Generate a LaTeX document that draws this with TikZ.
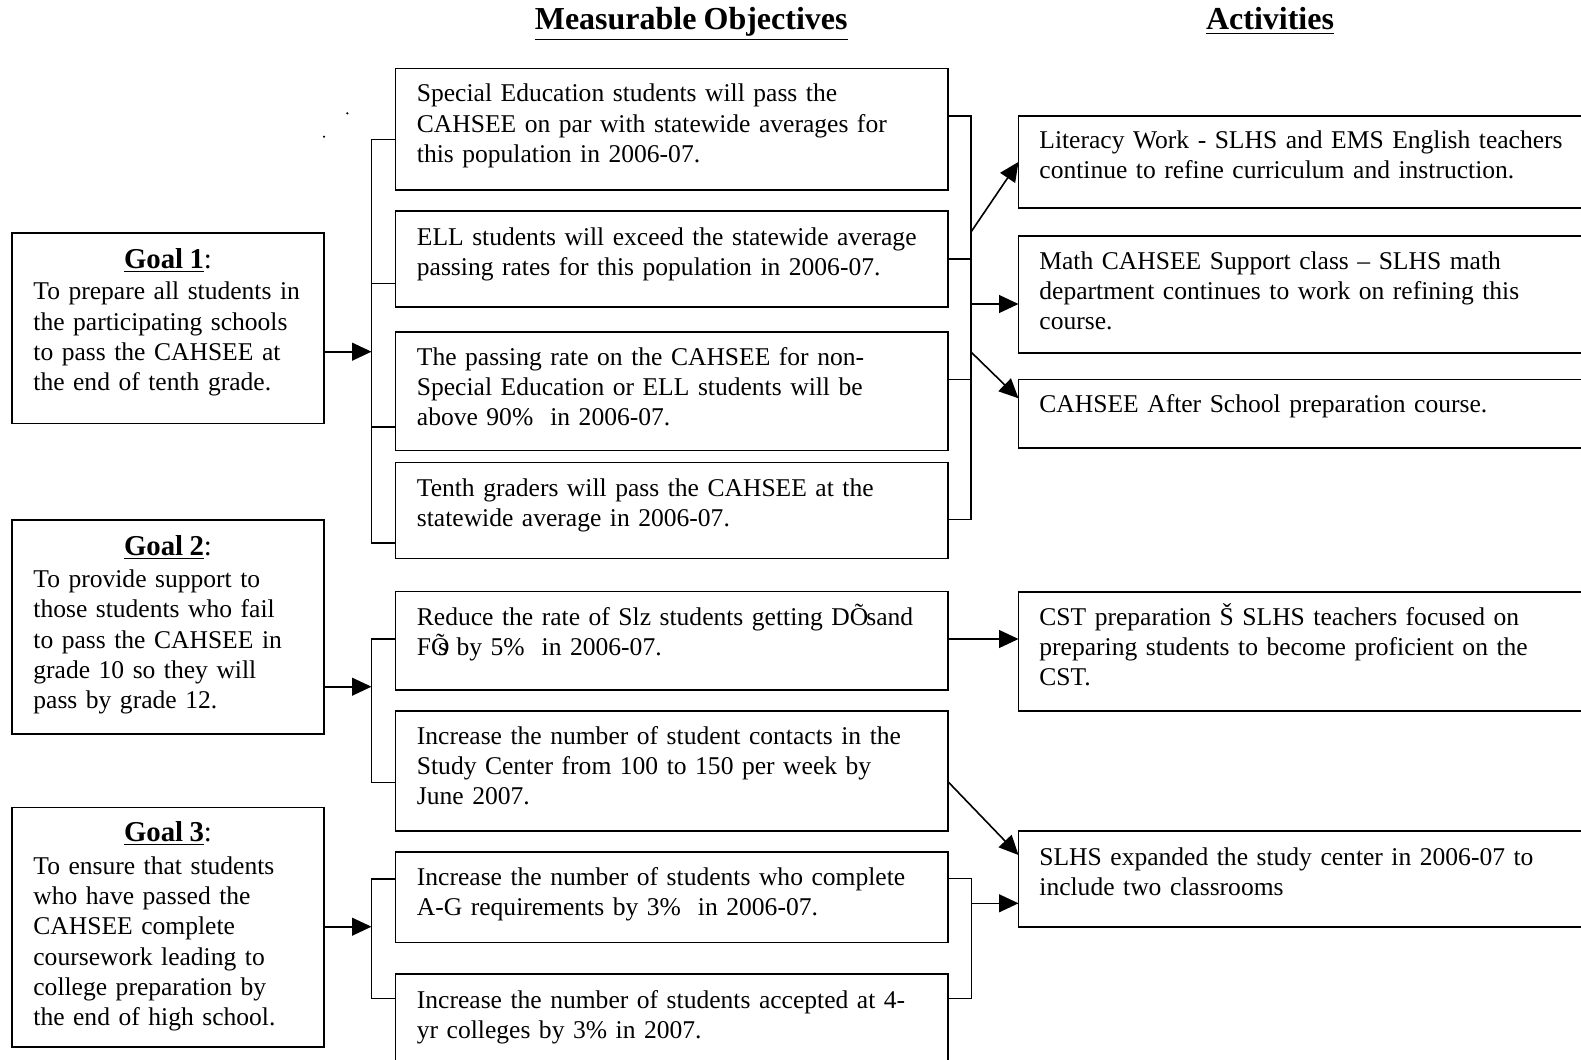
\documentclass[tikz,border=0pt]{standalone}
\usepackage{fontspec}
\setmainfont{Liberation Serif}[WordSpace=0.88]
\usepackage{tikz}
\usetikzlibrary{arrows.meta}

\tikzset{
  box/.style={draw, line width=0.8pt, anchor=north west, inner sep=0pt, outer sep=0pt},
  goalbox/.style={box, minimum width=156pt},
  objbox/.style={box, minimum width=276.25pt},
  actbox/.style={box, minimum width=300pt},
  txt/.style={anchor=base west, inner sep=0pt, text width=280pt, align=left, font=\fontsize{12.78pt}{15.15pt}\selectfont},
  goaltitle/.style={anchor=base, inner sep=0pt, font=\fontsize{14.4pt}{17pt}\selectfont},
  header/.style={anchor=base, inner sep=0pt, font=\fontsize{16pt}{19pt}\selectfont\bfseries},
  conn/.style={line width=0.8pt},
  arr/.style={line width=0.8pt, -{Triangle[length=9.7pt,width=8.9pt]}},
}

\begin{document}
\begin{tikzpicture}[x=0.5pt,y=0.5pt,yscale=-1,xscale=1]
\useasboundingbox (0,0) rectangle (1581,1060);

% Headers
\node[header] (hobj) at (691.2,30) {\underline{Measurable Objectives}};
\node[header] (hact) at (1270,30) {\underline{Activities}};

% stray marks
\fill (347.3,113.3) circle (1.2);
\fill (324,136.7) circle (1.2);

%Shape: Rectangle - goals
\node[goalbox, minimum height=95.25pt] (g1) at (12,233) {};
\node[goalbox, minimum height=107pt] (g2) at (12,520) {};
\node[goalbox, minimum height=119.7pt] (g3) at (12,807.3) {};

%Shape: Rectangle - objectives
\node[objbox, minimum height=60.85pt] (o1) at (395.5,68.3) {};
\node[objbox, minimum height=48pt] (o2) at (395.5,211) {};
\node[objbox, minimum height=59.4pt] (o3) at (395.5,331.7) {};
\node[objbox, minimum height=48pt] (o4) at (395.5,462.3) {};
\node[objbox, minimum height=49.25pt] (o5) at (395.5,591.5) {};
\node[objbox, minimum height=59.85pt] (o6) at (395.5,711) {};
\node[objbox, minimum height=45.3pt] (o7) at (395.5,851.7) {};
\node[objbox, minimum height=50pt] (o8) at (395.5,974) {};

%Shape: Rectangle - activities
\node[actbox, minimum height=45.85pt] (a1) at (1018.5,116) {};
\node[actbox, minimum height=58.35pt] (a2) at (1018.5,236) {};
\node[actbox, minimum height=34.2pt] (a3) at (1018.5,379.3) {};
\node[actbox, minimum height=59.5pt] (a4) at (1018.5,592) {};
\node[actbox, minimum height=47.85pt] (a5) at (1018.5,831) {};

% Text Node - goals
\node[goaltitle] (g1title) at (168,268) {\underline{\textbf{Goal 1}}:};
\node[txt] (g1text) at (33,299.8) {To prepare all students in\\ the participating schools\\ to pass the CAHSEE at\\ the end of tenth grade.};
\node[goaltitle] (g2title) at (168,555) {\underline{\textbf{Goal 2}}:};
\node[txt] (g2text) at (33,587.5) {To provide support to\\ those students who fail\\ to pass the CAHSEE in\\ grade 10 so they will\\ pass by grade 12.};
\node[goaltitle] (g3title) at (168,841.5) {\underline{\textbf{Goal 3}}:};
\node[txt] (g3text) at (33,874.3) {To ensure that students\\ who have passed the\\ CAHSEE complete\\ coursework leading to\\ college preparation by\\ the end of high school.};

% Text Node - objectives
\node[txt] (o1text) at (416.5,101.8) {Special Education students will pass the\\ CAHSEE on par with statewide averages for\\ this population in 2006-07.};
\node[txt] (o2text) at (416.5,245) {ELL students will exceed the statewide average\\ passing rates for this population in 2006-07.};
\node[txt] (o3text) at (416.5,365) {The passing rate on the CAHSEE for non-\\ Special Education or ELL students will be\\ above 90\% \ in 2006-07.};
\node[txt] (o4text) at (416.5,496) {Tenth graders will pass the CAHSEE at the\\ statewide average in 2006-07.};
\node[txt] (o5text) at (416.5,625) {Reduce the rate of Slz students getting DÕ\kern-0.08em sand\\ FÕ\kern-0.45em s by 5\% \ in 2006-07.};
\node[txt] (o6text) at (416.5,744) {Increase the number of student contacts in the\\ Study Center from 100 to 150 per week by\\ June 2007.};
\node[txt] (o7text) at (416.5,885.2) {Increase the number of students who complete\\ A-G requirements by 3\% \ in 2006-07.};
\node[txt] (o8text) at (416.5,1008.2) {Increase the number of students accepted at 4-\\ yr colleges by 3\% in 2007.};

% Text Node - activities
\node[txt] (a1text) at (1039,148.2) {Literacy Work - SLHS and EMS English teachers\\ continue to refine curriculum and instruction.};
\node[txt] (a2text) at (1039,269.2) {Math CAHSEE Support class – SLHS math\\ department continues to work on refining this\\ course.};
\node[txt] (a3text) at (1039,412.3) {CAHSEE After School preparation course.};
\node[txt] (a4text) at (1039,625) {CST preparation Š SLHS teachers focused on\\ preparing students to become proficient on the\\ CST.};
\node[txt] (a5text) at (1039,865) {SLHS expanded the study center in 2006-07 to\\ include two classrooms};

% Goal 1 bracket
\coordinate (l1o1) at (371.5,139.3);
\coordinate (l1o2) at (371.5,283.3);
\coordinate (l1o3) at (371.5,427);
\coordinate (l1o4) at (371.5,543);
\coordinate (l1in) at (371.5,351.7);
\draw[conn] (l1o1 -| o1.west) -- (l1o1) -- (l1o4) -- (l1o4 -| o4.west);
\draw[conn] (l1o2) -- (l1o2 -| o2.west);
\draw[conn] (l1o3) -- (l1o3 -| o3.west);
\draw[arr] (l1in -| g1.east) -- (l1in);

\coordinate (r1o1) at (971,115.7);
\coordinate (r1o2) at (971,259);
\coordinate (r1o3) at (971,379.3);
\coordinate (r1o4) at (971,519.3);
\draw[conn] (r1o1 -| o1.east) -- (r1o1) -- (r1o4) -- (r1o4 -| o4.east);
\draw[conn] (r1o2 -| o2.east) -- (r1o2);
\draw[conn] (r1o3 -| o3.east) -- (r1o3);
\coordinate (r1a1) at (971,232);
\coordinate (r1a2) at (971,304);
\coordinate (r1a3) at (971,352);
\draw[arr] (r1a1) -- (a1.west);
\draw[arr] (r1a2) -- (r1a2 -| a2.west);
\draw[arr] (r1a3) -- ([shift={(0,19)}]a3.north west);

% Goal 2 bracket
\coordinate (l2o5) at (371.5,639);
\coordinate (l2o6) at (371.5,782.3);
\coordinate (l2in) at (371.5,686.7);
\draw[conn] (l2o5 -| o5.west) -- (l2o5) -- (l2o6) -- (l2o6 -| o6.west);
\draw[arr] (l2in -| g2.east) -- (l2in);
\coordinate (o5out) at (948,639);
\coordinate (o6out) at (948,781.7);
\draw[arr] (o5out) -- (o5out -| a4.west);
\draw[arr] (o6out) -- ([shift={(0,24)}]a5.north west);

% Goal 3 bracket
\coordinate (l3o7) at (371.5,879);
\coordinate (l3o8) at (371.5,998.3);
\coordinate (l3in) at (371.5,926.7);
\draw[conn] (l3o7 -| o7.west) -- (l3o7) -- (l3o8) -- (l3o8 -| o8.west);
\draw[arr] (l3in -| g3.east) -- (l3in);
\coordinate (r3o7) at (971.5,878.3);
\coordinate (r3o8) at (971.5,998.3);
\coordinate (r3a5) at (971.5,903.3);
\draw[conn] (r3o7 -| o7.east) -- (r3o7) -- (r3o8) -- (r3o8 -| o8.east);
\draw[arr] (r3a5) -- (r3a5 -| a5.west);

\end{tikzpicture}
\end{document}
